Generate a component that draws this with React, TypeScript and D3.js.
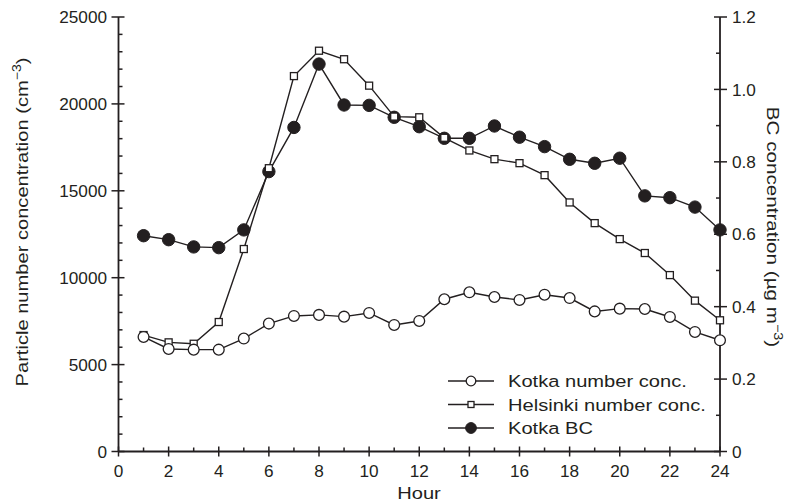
import React from "react";
import * as d3 from "d3";

const hours = [1,2,3,4,5,6,7,8,9,10,11,12,13,14,15,16,17,18,19,20,21,22,23,24];
const kotkaNumber = [6590,5900,5860,5860,6500,7360,7800,7860,7760,7970,7280,7510,8760,9160,8890,8720,9020,8830,8060,8220,8200,7740,6880,6400];
const helsinkiNumber = [6700,6280,6200,7450,11650,16300,21600,23060,22570,21050,19270,19230,18050,17320,16820,16590,15900,14330,13140,12220,11420,10150,8680,7550];
const kotkaBC = [0.596,0.585,0.565,0.563,0.612,0.773,0.895,1.070,0.957,0.956,0.923,0.897,0.865,0.865,0.899,0.868,0.842,0.807,0.796,0.810,0.706,0.701,0.675,0.612];
const xTicks = [0,2,4,6,8,10,12,14,16,18,20,22,24];
const leftTicks = [0,5000,10000,15000,20000,25000];
const rightTicks = [0,0.2,0.4,0.6,0.8,1.0,1.2];
const legendLabels = ["Kotka number conc.","Helsinki number conc.","Kotka BC"];

const W = 793, H = 504;
const m = { left: 118.5, right: 720, top: 17, bottom: 451.5 };
const FONT = "'Liberation Sans', Arial, sans-serif";

export default function App() {
  const x = d3.scaleLinear().domain([0, 24]).range([m.left, m.right]);
  const yL = d3.scaleLinear().domain([0, 25000]).range([m.bottom, m.top]);
  const yR = d3.scaleLinear().domain([0, 1.2]).range([m.bottom, m.top]);
  const lineL = d3.line<number>().x((_, i) => x(hours[i])).y(d => yL(d));
  const lineR = d3.line<number>().x((_, i) => x(hours[i])).y(d => yR(d));
  const minorX = d3.range(1, 24, 2);
  const minorL = d3.range(0, 25001, 1000).filter(v => v % 5000 !== 0);
  const minorR = d3.range(1, 12, 2).map(v => v / 10);
  const stroke = "#231f20";
  const fs = 17.2;
  const legY = [381, 404.5, 428];
  const legX0 = 448, legX1 = 494, legM = 471;

  return (
    <svg width={W} height={H} style={{ position: "absolute", left: 0, top: 0, background: "#fff" }} fontFamily={FONT}>
      {/* axes */}
      <line x1={m.left} x2={m.left} y1={m.top} y2={m.bottom} stroke={stroke} strokeWidth={1.8} />
      <line x1={m.right} x2={m.right} y1={m.top} y2={m.bottom} stroke={stroke} strokeWidth={1.8} />
      <line x1={m.left} x2={m.right} y1={m.bottom} y2={m.bottom} stroke={stroke} strokeWidth={1.8} />
      {/* x ticks */}
      {xTicks.map(t => (
        <g key={"xt" + t}>
          <line x1={x(t)} x2={x(t)} y1={m.bottom - 5} y2={m.bottom + 5} stroke={stroke} strokeWidth={1.5} />
          <text x={x(t)} y={m.bottom + 25.5} fontSize={fs} textAnchor="middle" fill={stroke}>{t}</text>
        </g>
      ))}
      {minorX.map(t => (
        <line key={"xm" + t} x1={x(t)} x2={x(t)} y1={m.bottom - 4} y2={m.bottom} stroke={stroke} strokeWidth={1.5} />
      ))}
      {/* left ticks */}
      {leftTicks.map(t => (
        <g key={"lt" + t}>
          <line x1={m.left - 7} x2={m.left + 6} y1={yL(t)} y2={yL(t)} stroke={stroke} strokeWidth={1.5} />
          <text x={m.left - 11.5} y={yL(t) + 6.2} fontSize={fs} textAnchor="end" fill={stroke}>{t}</text>
        </g>
      ))}
      {minorL.map(t => (
        <line key={"lm" + t} x1={m.left} x2={m.left + 4} y1={yL(t)} y2={yL(t)} stroke={stroke} strokeWidth={1.5} />
      ))}
      {/* right ticks */}
      {rightTicks.map(t => (
        <g key={"rt" + t}>
          <line x1={m.right - 6} x2={m.right + 7} y1={yR(t)} y2={yR(t)} stroke={stroke} strokeWidth={1.5} />
          <text x={m.right + 12} y={yR(t) + 6.2} fontSize={fs} textAnchor="start" fill={stroke}>{t === 0 ? "0" : t.toFixed(1)}</text>
        </g>
      ))}
      {minorR.map(t => (
        <line key={"rm" + t} x1={m.right - 4} x2={m.right} y1={yR(t)} y2={yR(t)} stroke={stroke} strokeWidth={1.5} />
      ))}
      {/* axis titles */}
      <g transform={`translate(419,499) scale(1.17,1)`}>
        <text x={0} y={0} fontSize={fs} textAnchor="middle" fill={stroke}>Hour</text>
      </g>
      <g transform={`translate(28,222) rotate(-90) scale(1.17,1)`}>
        <text x={0} y={0} fontSize={fs} textAnchor="middle" fill={stroke}>
          Particle number concentration (cm<tspan dy={-7} fontSize={12}>−3</tspan><tspan dy={7}>)</tspan>
        </text>
      </g>
      <g transform={`translate(767,227) rotate(90) scale(1.2,1)`}>
        <text x={0} y={0} fontSize={fs} textAnchor="middle" fill={stroke}>
          BC concentration (µg m<tspan dy={-7} fontSize={12}>−3</tspan><tspan dy={7}>)</tspan>
        </text>
      </g>
      {/* series */}
      <path d={lineL(helsinkiNumber) || ""} fill="none" stroke={stroke} strokeWidth={1.4} />
      <path d={lineL(kotkaNumber) || ""} fill="none" stroke={stroke} strokeWidth={1.4} />
      <path d={lineR(kotkaBC) || ""} fill="none" stroke={stroke} strokeWidth={1.4} />
      {kotkaBC.map((v, i) => (
        <circle key={"bc" + i} cx={x(hours[i])} cy={yR(v)} r={6.2} fill={stroke} stroke={stroke} strokeWidth={1} />
      ))}
      {helsinkiNumber.map((v, i) => (
        <rect key={"hn" + i} x={x(hours[i]) - 3.5} y={yL(v) - 3.5} width={7} height={7} fill="#fff" stroke={stroke} strokeWidth={1.3} />
      ))}
      {kotkaNumber.map((v, i) => (
        <circle key={"kn" + i} cx={x(hours[i])} cy={yL(v)} r={5.4} fill="#fff" stroke={stroke} strokeWidth={1.3} />
      ))}
      {/* legend */}
      {legendLabels.map((lab, i) => (
        <g key={"lg" + i}>
          <line x1={legX0} x2={legX1} y1={legY[i]} y2={legY[i]} stroke={stroke} strokeWidth={1.4} />
          {i === 0 && <circle cx={legM} cy={legY[i]} r={4.8} fill="#fff" stroke={stroke} strokeWidth={1.3} />}
          {i === 1 && <rect x={legM - 3} y={legY[i] - 3} width={6} height={6} fill="#fff" stroke={stroke} strokeWidth={1.3} />}
          {i === 2 && <circle cx={legM} cy={legY[i]} r={5.4} fill={stroke} stroke={stroke} />}
          <g transform={`translate(508,${legY[i] + 6.3}) scale(1.17,1)`}>
            <text x={0} y={0} fontSize={fs} fill={stroke}>{lab}</text>
          </g>
        </g>
      ))}
    </svg>
  );
}
